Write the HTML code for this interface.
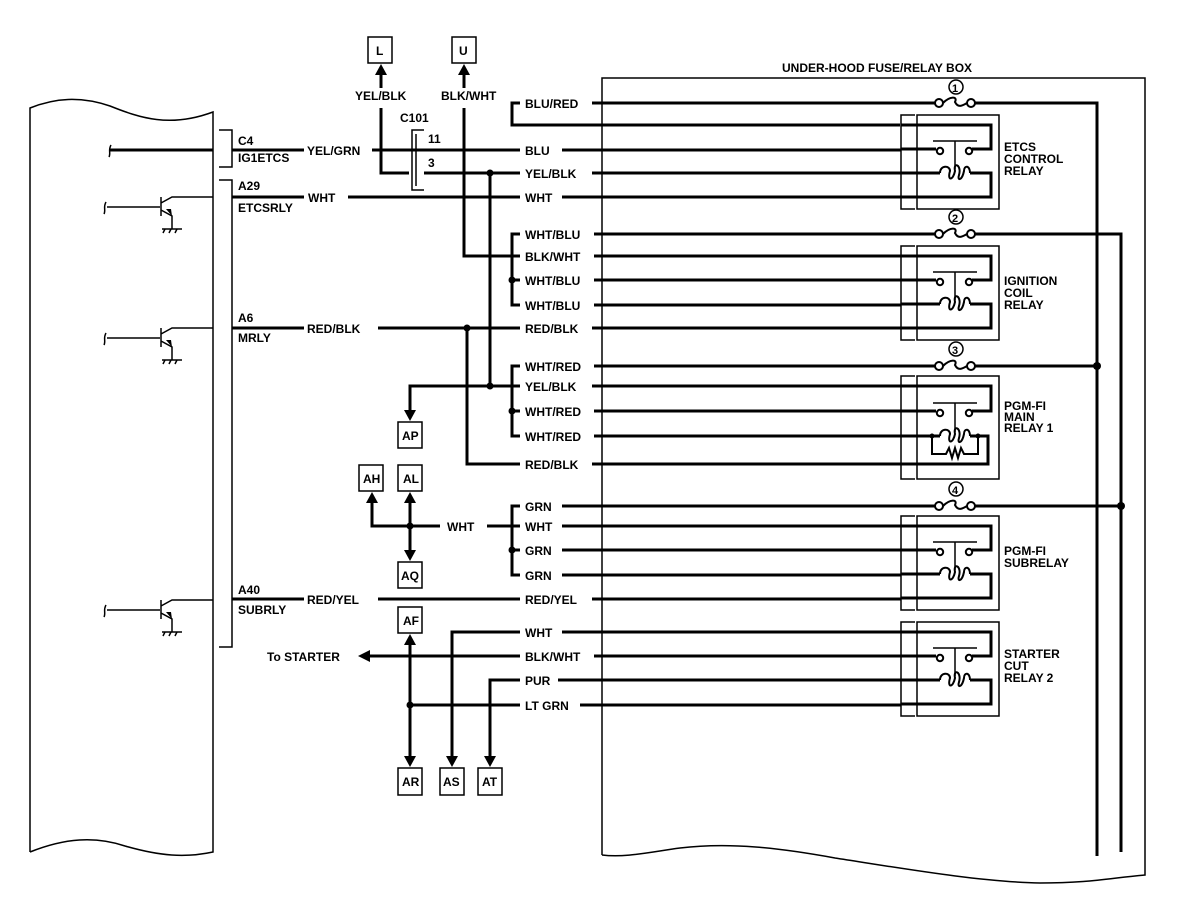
<!DOCTYPE html>
<html><head><meta charset="utf-8"><style>
html,body{margin:0;padding:0;background:#fff;}
svg{display:block;}
text{font-family:"Liberation Sans",sans-serif;font-weight:bold;font-size:12px;fill:#000;}
.w{stroke:#000;stroke-width:3;fill:none;}
.t{stroke:#000;stroke-width:1.5;fill:none;}
</style></head><body>
<svg width="1184" height="906" viewBox="0 0 1184 906" xmlns="http://www.w3.org/2000/svg">
<defs>
<g id="relay">
  <path class="t" d="M915 -10 H901 V84 H915"/>
  <rect class="t" x="917" y="-10" width="82" height="94"/>
  <path class="w" d="M901 0 H991 V24 H972"/>
  <path class="w" d="M901 24 H936"/>
  <circle cx="940" cy="26" r="3.2" fill="#fff" stroke="#000" stroke-width="2"/>
  <circle cx="969" cy="26" r="3.2" fill="#fff" stroke="#000" stroke-width="2"/>
  <path class="t" d="M933 16 H977 M955 16 V44"/>
  <path class="w" d="M901 48 H940"/>
  <path stroke="#000" stroke-width="2" fill="none" d="M940 48 C940 40 950 40 950 46 C947 56 953 56 955 46 C953 36 962 40 959 50 C957 56 962 56 964 46 C964 40 970 40 970 48"/>
  <path class="w" d="M970 48 H991 V72 H901"/>
</g>
</defs>

<!-- ECM box -->
<path class="t" d="M30 852 V108 C55 98 80 96 110 106 C140 118 170 128 213 112 V852 C185 858 160 856 125 846 C95 836 65 838 30 852"/>

<!-- connector brackets -->
<path class="t" d="M219 130 H232 V167 H219"/>
<path class="t" d="M219 180 H232 V647 H219"/>
<text x="238" y="145">C4</text>
<text x="238" y="162">IG1ETCS</text>
<text x="238" y="190">A29</text>
<text x="238" y="212">ETCSRLY</text>
<text x="238" y="322">A6</text>
<text x="238" y="342">MRLY</text>
<text x="238" y="594">A40</text>
<text x="238" y="614">SUBRLY</text>

<!-- C4 line -->
<path class="w" d="M110 150 H213"/>
<path class="t" d="M111 145 C108 150 111 153 109 157"/>
<path class="w" d="M232 150 H304 M372 150 H520"/>
<text x="307" y="155">YEL/GRN</text>

<!-- transistors -->
<g id="tr1">
  <path class="t" d="M107 207 H160 M161 197 V216 M161 203 L172 197 H213 M161 210 L172 216 V229 M162 229 H182"/>
  <path class="t" d="M106 202 C103 207 106 210 104 214"/>
  <path d="M172 216 L166 209 L171 209 Z" fill="#000"/>
  <path class="t" d="M165 229 l-2 4 M171 229 l-2 4 M177 229 l-2 4"/>
</g>
<use href="#tr1" transform="translate(0,131)"/>
<use href="#tr1" transform="translate(0,403)"/>
<path class="w" d="M213 197 H213"/>

<path class="w" d="M232 197 H304 M348 197 H520"/>
<text x="308" y="202">WHT</text>
<path class="w" d="M232 328 H304 M378 328 H520"/>
<text x="307" y="333">RED/BLK</text>
<path class="w" d="M232 599 H304 M378 599 H520"/>
<text x="307" y="604">RED/YEL</text>

<!-- L and U -->
<rect class="t" x="368" y="37" width="24" height="26"/><text x="376" y="55">L</text>
<rect class="t" x="452" y="37" width="24" height="26"/><text x="459" y="55">U</text>
<path class="w" d="M381 88 V72"/><path d="M381 64 L375 75 L387 75 Z"/>
<path class="w" d="M464 88 V72"/><path d="M464 64 L458 75 L470 75 Z"/>
<text x="355" y="100">YEL/BLK</text>
<text x="441" y="100">BLK/WHT</text>
<path class="w" d="M381 108 V173 H409"/>
<path class="w" d="M464 108 V256 H520"/>

<!-- C101 -->
<text x="400" y="122">C101</text>
<path class="t" d="M424 130 H412 V190 H424"/>
<path class="t" d="M416 134 V186"/>
<text x="428" y="143">11</text>
<text x="428" y="167">3</text>
<path class="w" d="M424 173 H520"/>
<circle cx="490" cy="173" r="3.5"/>
<path class="w" d="M490 173 V386"/>

<!-- right side branches -->
<path class="w" d="M520 103 H512 V125 H900"/>
<path class="w" d="M520 234 H512 V305 H520 M512 280 H520"/><circle cx="512" cy="280" r="3.5"/>
<path class="w" d="M520 366 H512 V436 H520 M512 411 H520"/><circle cx="512" cy="411" r="3.5"/>
<path class="w" d="M520 506 H512 V575 H520 M512 550 H520"/><circle cx="512" cy="550" r="3.5"/>

<circle cx="467" cy="328" r="3.5"/>
<path class="w" d="M467 328 V464 H520"/>

<path class="w" d="M520 386 H410 V412"/><circle cx="490" cy="386" r="3.5"/>
<path d="M410 421 L404 410 L416 410 Z"/>
<rect class="t" x="398" y="422" width="24" height="26"/><text x="402" y="440">AP</text>

<rect class="t" x="359" y="465" width="24" height="26"/><text x="363" y="483">AH</text>
<rect class="t" x="398" y="465" width="24" height="26"/><text x="403" y="483">AL</text>
<path class="w" d="M372 500 V526 H440 M487 526 H520 M410 500 V553"/>
<path d="M372 492 L366 503 L378 503 Z"/><path d="M410 492 L404 503 L416 503 Z"/>
<path d="M410 561 L404 550 L416 550 Z"/>
<circle cx="410" cy="526" r="3.5"/>
<text x="447" y="531">WHT</text>
<rect class="t" x="398" y="562" width="24" height="26"/><text x="401" y="580">AQ</text>

<rect class="t" x="398" y="607" width="24" height="26"/><text x="403" y="625">AF</text>
<path class="w" d="M410 642 V760"/>
<path d="M410 634 L404 645 L416 645 Z"/>
<path d="M410 767 L404 756 L416 756 Z"/>
<circle cx="410" cy="705" r="3.5"/>
<path class="w" d="M410 705 H520"/>
<path class="w" d="M520 632 H452 V760"/><path d="M452 767 L446 756 L458 756 Z"/>
<path class="w" d="M520 680 H490 V760"/><path d="M490 767 L484 756 L496 756 Z"/>
<path class="w" d="M520 656 H368"/><path d="M358 656 L370 650 L370 662 Z"/>
<text x="267" y="661">To STARTER</text>
<rect class="t" x="398" y="768" width="24" height="27"/><text x="402" y="786">AR</text>
<rect class="t" x="440" y="768" width="24" height="27"/><text x="443" y="786">AS</text>
<rect class="t" x="478" y="768" width="24" height="27"/><text x="482" y="786">AT</text>

<!-- wire labels right column -->
<g>
<text x="525" y="108">BLU/RED</text>
<text x="525" y="155">BLU</text>
<text x="525" y="178">YEL/BLK</text>
<text x="525" y="202">WHT</text>
<text x="525" y="239">WHT/BLU</text>
<text x="525" y="261">BLK/WHT</text>
<text x="525" y="285">WHT/BLU</text>
<text x="525" y="310">WHT/BLU</text>
<text x="525" y="333">RED/BLK</text>
<text x="525" y="371">WHT/RED</text>
<text x="525" y="391">YEL/BLK</text>
<text x="525" y="416">WHT/RED</text>
<text x="525" y="441">WHT/RED</text>
<text x="525" y="469">RED/BLK</text>
<text x="525" y="511">GRN</text>
<text x="525" y="531">WHT</text>
<text x="525" y="555">GRN</text>
<text x="525" y="580">GRN</text>
<text x="525" y="604">RED/YEL</text>
<text x="525" y="637">WHT</text>
<text x="525" y="661">BLK/WHT</text>
<text x="525" y="685">PUR</text>
<text x="525" y="710">LT GRN</text>
</g>
<path class="w" d="M592 103 H935 M562 150 H901 M592 173 H901 M562 197 H901
M594 234 H935 M594 256 H901 M594 280 H901 M594 305 H901 M592 328 H901
M594 366 H935 M592 386 H901 M594 411 H901 M594 436 H901 M592 464 H901
M562 506 H935 M562 526 H901 M562 550 H901 M562 575 H901 M592 599 H901
M562 632 H901 M594 656 H901 M558 680 H901 M580 705 H901"/>

<!-- fuse box -->
<text x="782" y="72">UNDER-HOOD FUSE/RELAY BOX</text>
<path class="t" d="M602 855 V78 H1145 V875 C1110 878 1090 883 1040 883 C980 882 900 868 835 858 C780 848 730 842 680 848 C650 852 625 858 602 855"/>

<!-- fuses -->
<g id="fuse">
  <circle cx="939" cy="103" r="4" fill="#fff" stroke="#000" stroke-width="2"/>
  <circle cx="971" cy="103" r="4" fill="#fff" stroke="#000" stroke-width="2"/>
  <path stroke="#000" stroke-width="2" fill="none" d="M943 103 C950 96 958 96 955 102 C958 108 962 106 967 103"/>
</g>
<use href="#fuse" transform="translate(0,131)"/>
<use href="#fuse" transform="translate(0,263)"/>
<use href="#fuse" transform="translate(0,403)"/>
<path class="w" d="M975 103 H1097 V856 M975 234 H1121 V852 M975 366 H1097 M975 506 H1121"/>
<circle cx="1097" cy="366" r="4"/><circle cx="1121" cy="506" r="4"/>
<g font-size="13">
<circle cx="956" cy="87" r="7" class="t"/><text x="952" y="92" style="font-size:11px">1</text>
<circle cx="956" cy="217" r="7" class="t"/><text x="952" y="222" style="font-size:11px">2</text>
<circle cx="956" cy="349" r="7" class="t"/><text x="952" y="354" style="font-size:11px">3</text>
<circle cx="956" cy="489" r="7" class="t"/><text x="952" y="494" style="font-size:11px">4</text>
</g>

<!-- relays -->
<use href="#relay" transform="translate(0,125)"/>
<use href="#relay" transform="translate(0,256)"/>
<use href="#relay" transform="translate(0,526)"/>
<use href="#relay" transform="translate(0,632)"/>
<!-- main relay 1 custom -->
<g>
  <path class="t" d="M915 376 H901 V479 H915"/>
  <rect class="t" x="917" y="376" width="82" height="103"/>
  <path class="w" d="M901 386 H991 V411 H972"/>
  <path class="w" d="M901 411 H936"/>
  <circle cx="940" cy="413" r="3.2" fill="#fff" stroke="#000" stroke-width="2"/>
  <circle cx="969" cy="413" r="3.2" fill="#fff" stroke="#000" stroke-width="2"/>
  <path class="t" d="M933 403 H977 M955 403 V432"/>
  <path class="w" d="M901 436 H940"/>
  <path stroke="#000" stroke-width="2" fill="none" d="M940 436 C940 428 950 428 950 434 C947 444 953 444 955 434 C953 424 962 428 959 438 C957 444 962 444 964 434 C964 428 970 428 970 436"/>
  <path class="w" d="M970 436 H988 V464 H901"/>
  <path stroke="#000" stroke-width="2" fill="none" d="M932 436 V454 H946 L949 448 L952 458 L955 448 L958 458 L961 448 L964 454 H978 V436"/>
  <circle cx="932" cy="436" r="2.5"/><circle cx="978" cy="436" r="2.5"/>
</g>

<g style="font-size:12px">
<text x="1004" y="151">ETCS</text><text x="1004" y="163">CONTROL</text><text x="1004" y="175">RELAY</text>
<text x="1004" y="285">IGNITION</text><text x="1004" y="297">COIL</text><text x="1004" y="309">RELAY</text>
<text x="1004" y="410">PGM-FI</text><text x="1004" y="421">MAIN</text><text x="1004" y="432">RELAY 1</text>
<text x="1004" y="555">PGM-FI</text><text x="1004" y="567">SUBRELAY</text>
<text x="1004" y="658">STARTER</text><text x="1004" y="670">CUT</text><text x="1004" y="682">RELAY 2</text>
</g>
</svg>
</body></html>
